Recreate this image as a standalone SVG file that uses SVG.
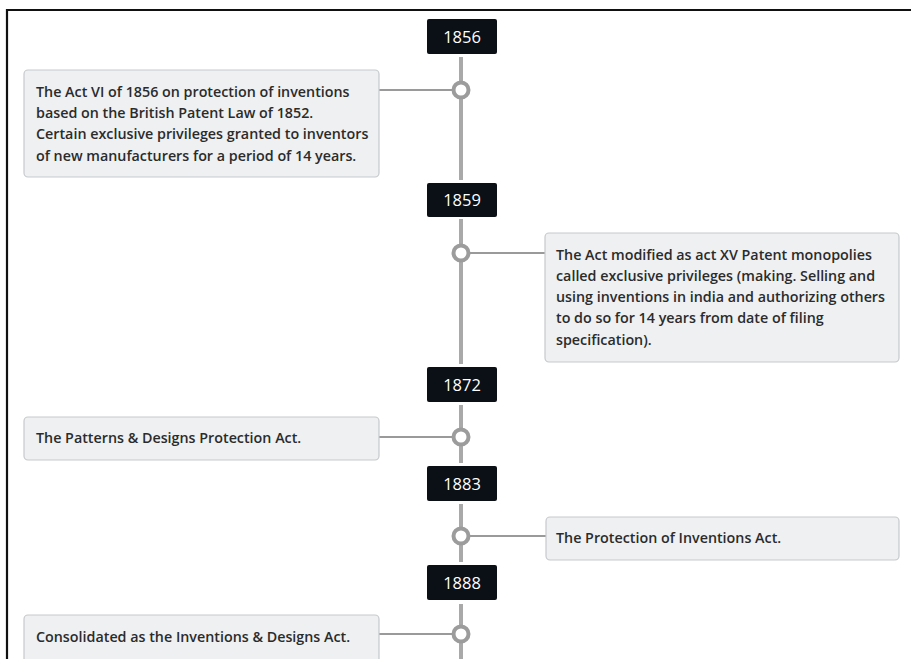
<svg xmlns="http://www.w3.org/2000/svg" width="911" height="659" viewBox="0 0 911 659">
<style>
.yr rect{fill:#0b0f16;}
.yr text{fill:#ffffff;font-family:"Open Sans","DejaVu Sans",sans-serif;font-size:16.5px;text-anchor:middle;}
.card rect{fill:#eef0f2;stroke:#c6c9cc;stroke-width:1.2;}
.card text{fill:#2b2b2b;font-family:"Open Sans","DejaVu Sans",sans-serif;font-size:14.3px;font-weight:600;}
.spine{stroke:#a9a9a9;stroke-width:4;fill:none;}
.conn{stroke:#9a9a9a;stroke-width:2.2;fill:none;}
.dot{fill:#ffffff;stroke:#9c9c9c;stroke-width:4;}
</style>
<rect x="0" y="0" width="911" height="659" fill="#ffffff"/>
<g id="frame">
<line x1="7" y1="10" x2="911" y2="10" stroke="#111" stroke-width="2.2"/>
<line x1="7" y1="9" x2="7" y2="659" stroke="#111" stroke-width="2.2"/>
</g>
<g id="connectors">
<line class="spine" x1="461" y1="57" x2="461" y2="180"/>
<line class="spine" x1="461" y1="219" x2="461" y2="364"/>
<line class="spine" x1="461" y1="405" x2="461" y2="463"/>
<line class="spine" x1="461" y1="504" x2="461" y2="562"/>
<line class="spine" x1="461" y1="604" x2="461" y2="659"/>
<line class="conn" x1="379" y1="90" x2="453" y2="90"/>
<line class="conn" x1="469" y1="253" x2="545" y2="253"/>
<line class="conn" x1="379" y1="437" x2="453" y2="437"/>
<line class="conn" x1="469" y1="536" x2="546" y2="536"/>
<line class="conn" x1="379" y1="634" x2="453" y2="634"/>
<circle class="dot" cx="461" cy="90" r="7.5"/>
<circle class="dot" cx="461" cy="253" r="7.5"/>
<circle class="dot" cx="461" cy="437" r="7.5"/>
<circle class="dot" cx="461" cy="536" r="7.5"/>
<circle class="dot" cx="461" cy="634" r="7.5"/>
</g>
<g id="y1856" class="yr"><rect x="427" y="19" width="70" height="35" rx="2"/><text x="462" y="43">1856</text></g>
<g id="y1859" class="yr"><rect x="427" y="183" width="70" height="34" rx="2"/><text x="462" y="206">1859</text></g>
<g id="y1872" class="yr"><rect x="427" y="367" width="70" height="35" rx="2"/><text x="462" y="391">1872</text></g>
<g id="y1883" class="yr"><rect x="427" y="466" width="70" height="35" rx="2"/><text x="462" y="490">1883</text></g>
<g id="y1888" class="yr"><rect x="427" y="565" width="70" height="35" rx="2"/><text x="462" y="589">1888</text></g>
<g id="card1856" class="card"><rect x="24" y="70" width="355" height="107" rx="4"/>
<text x="36" y="97">The Act VI of 1856 on protection of inventions</text>
<text x="36" y="118">based on the British Patent Law of 1852.</text>
<text x="36" y="139">Certain exclusive privileges granted to inventors</text>
<text x="36" y="161">of new manufacturers for a period of 14 years.</text>
</g>
<g id="card1859" class="card"><rect x="545" y="233" width="354" height="129" rx="4"/>
<text x="556" y="260">The Act modified as act XV Patent monopolies</text>
<text x="556" y="281">called exclusive privileges (making. Selling and</text>
<text x="556" y="302">using inventions in india and authorizing others</text>
<text x="556" y="323">to do so for 14 years from date of filing</text>
<text x="556" y="345">specification).</text>
</g>
<g id="card1872" class="card"><rect x="24" y="417" width="355" height="43" rx="4"/>
<text x="36" y="443">The Patterns &amp; Designs Protection Act.</text>
</g>
<g id="card1883" class="card"><rect x="546" y="517" width="353" height="43" rx="4"/>
<text x="556" y="543">The Protection of Inventions Act.</text>
</g>
<g id="card1888" class="card"><rect x="24" y="615" width="355" height="50" rx="4"/>
<text x="36" y="642">Consolidated as the Inventions &amp; Designs Act.</text>
</g>
</svg>
